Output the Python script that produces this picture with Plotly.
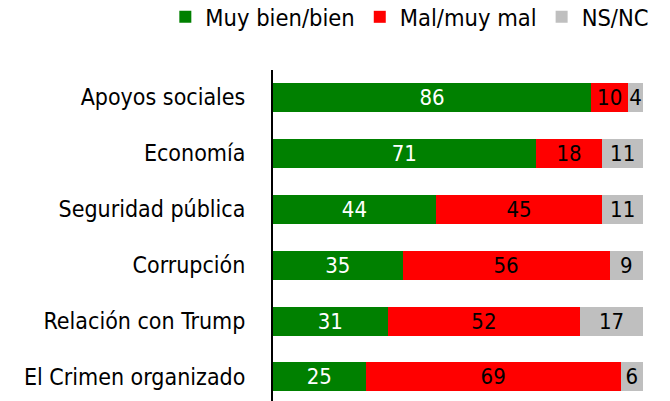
import plotly.graph_objects as go

categories = ["Apoyos sociales", "Economía", "Seguridad pública", "Corrupción",
              "Relación con Trump", "El Crimen organizado"]
bien = [86, 71, 44, 35, 31, 25]
mal = [10, 18, 45, 56, 52, 69]
nsnc = [4, 11, 11, 9, 17, 6]
series_names = ["Muy bien/bien", "Mal/muy mal", "NS/NC"]

FONT = "DejaVu Sans Condensed, Tahoma, DejaVu Sans, sans-serif"
colors = ["#008000", "#FF0000", "#BFBFBF"]
text_colors = ["white", "black", "black"]

fig = go.Figure()
for name, vals, c, tc in zip(series_names, [bien, mal, nsnc], colors, text_colors):
    fig.add_trace(go.Bar(
        y=categories, x=vals, name=name, orientation="h",
        marker=dict(color=c, line=dict(width=0)),
        text=vals, texttemplate="%{x}", textposition="inside",
        insidetextanchor="middle", constraintext="none", textangle=0,
        textfont=dict(color=tc, size=22, family=FONT),
        width=0.52, hoverinfo="skip",
    ))

fig.update_layout(
    barmode="stack",
    width=670, height=401,
    margin=dict(l=273, r=27, t=70, b=0, pad=0, autoexpand=False),
    plot_bgcolor="white", paper_bgcolor="white",
    font=dict(family=FONT, size=23, color="black"),
    showlegend=True,
    legend=dict(orientation="h", x=-0.291, xanchor="left", y=1.16, yanchor="middle",
                font=dict(size=23.5, family=FONT), traceorder="normal",
                itemwidth=30, tracegroupgap=0, bgcolor="rgba(0,0,0,0)"),
    xaxis=dict(range=[0, 100], visible=False, fixedrange=True),
    yaxis=dict(categoryorder="array", categoryarray=categories,
               range=[5.43, -0.49], showline=True, linecolor="black", linewidth=2,
               ticks="", showgrid=False, zeroline=False,
               ticklabelstandoff=21, tickfont=dict(size=23, family=FONT)),
)

fig.write_html("out.html", config={"displayModeBar": False, "staticPlot": True},
               post_script="document.body.style.margin='0';")
